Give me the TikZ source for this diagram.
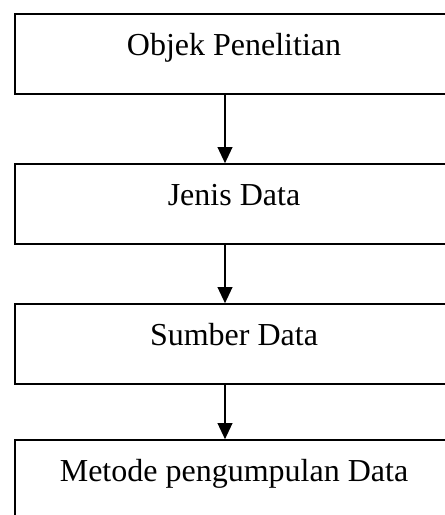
\documentclass[tikz,border=0pt]{standalone}
\usepackage{fontspec}
\setmainfont{Liberation Serif}
\usetikzlibrary{arrows.meta}

\begin{document}
\begin{tikzpicture}
        [x=0.75pt, y=-0.75pt,
        box/.style={draw, line width=1.2pt, minimum width=328.5pt, minimum height=60pt,
                    inner ysep=15pt, text height=15.75pt, text depth=14.25pt,
                    font=\fontsize{24}{28}\selectfont},
        arr/.style={line width=1.2pt, -{Triangle[width=11pt, length=12pt]}}]

        \useasboundingbox (0,0) rectangle (445,515);
        \clip (0,0) rectangle (445,515);

        % the four steps
        \node[box] (objek) at (234,54) {Objek Penelitian};
        \node[box] (jenis) at (234,204) {Jenis Data};
        \node[box] (sumber) at (234,344) {Sumber Data};
        \node[box] (metode) at (234,480) {Metode pengumpulan Data};

        % arrows between steps
        \draw[arr] ([xshift=-6.75pt]objek.south) -- ([xshift=-6.75pt]jenis.north);
        \draw[arr] ([xshift=-6.75pt]jenis.south) -- ([xshift=-6.75pt]sumber.north);
        \draw[arr] ([xshift=-6.75pt]sumber.south) -- ([xshift=-6.75pt]metode.north);

    \end{tikzpicture}
\end{document}
